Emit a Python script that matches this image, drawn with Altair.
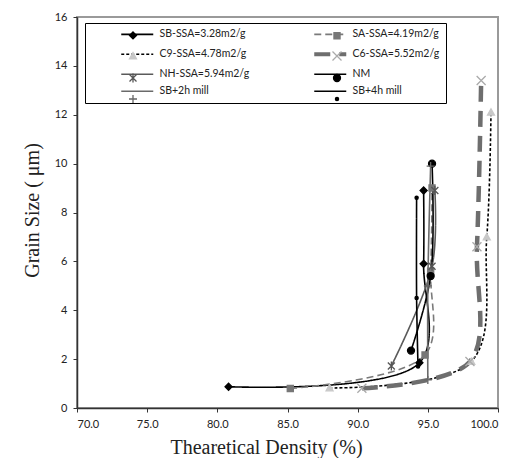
import altair as alt
import pandas as pd

series = ["SB-SSA=3.28m2/g", "SA-SSA=4.19m2/g", "C9-SSA=4.78m2/g", "C6-SSA=5.52m2/g",
          "NH-SSA=5.94m2/g", "NM", "SB+2h mill", "SB+4h mill"]

sb_x = [80.8, 94.4, 94.7, 94.7]
sb_y = [0.87, 1.85, 5.9, 8.9]
sa_x = [85.2, 94.8, 95.2, 95.3]
sa_y = [0.80, 2.17, 5.6, 9.0]
c9_x = [88.0, 98.1, 99.2, 99.5]
c9_y = [0.82, 1.9, 7.0, 12.1]
c6_x = [90.3, 98.0, 98.5, 98.8]
c6_y = [0.81, 1.9, 6.6, 13.4]
nh_x = [92.4, 95.3, 95.5]
nh_y = [1.72, 5.8, 8.9]
nm_x = [93.8, 95.2, 95.3]
nm_y = [2.35, 5.4, 10.0]
sb2_x = [95.0, 95.0, 95.2]
sb2_y = [1.15, 5.0, 9.9]
sb4_x = [94.3, 94.2, 94.2]
sb4_y = [1.7, 4.5, 8.6]

x_ticks = [70, 75, 80, 85, 90, 95, 100]
y_ticks = [0, 2, 4, 6, 8, 10, 12, 14, 16]

ZW = "\u200b"
markers = [s + ZW for s in series]

xs = [sb_x, sa_x, c9_x, c6_x, nh_x, nm_x, sb2_x, sb4_x]
ys = [sb_y, sa_y, c9_y, c6_y, nh_y, nm_y, sb2_y, sb4_y]
rows = []
for name, mname, xv, yv in zip(series, markers, xs, ys):
    for i, (a, b) in enumerate(zip(xv, yv)):
        rows.append({"series": name, "marker": mname, "density": a, "grain": b, "order": i})
df = pd.DataFrame(rows)

line_colors = ["#000000", "#7a7a7a", "#000000", "#6e6e6e", "#5a5a5a", "#000000", "#6a6a6a", "#000000"]
line_dash = [[1, 0], [7, 4], [3, 2], [16, 9], [1, 0], [1, 0], [1, 0], [1, 0]]
thick_series = "C6-SSA=5.52m2/g"

# marker glyphs in the unit box (symbol size 100 -> 10 px box)
marker_shapes = [
    "M0,-0.7L0.7,0L0,0.7L-0.7,0Z",
    "M-0.61,-0.61L0.61,-0.61L0.61,0.61L-0.61,0.61Z",
    "M0,-0.7L0.7,0.58L-0.7,0.58Z",
    "M-0.9,-0.9L0.9,0.9M-0.9,0.9L0.9,-0.9",
    "M-0.7,-0.7L0.7,0.7M-0.7,0.7L0.7,-0.7M0,-0.9L0,0.9",
    "M-0.7,0A0.7,0.7,0,1,0,0.7,0A0.7,0.7,0,1,0,-0.7,0Z",
    "M-0.8,0L0.8,0M0,-0.8L0,0.8",
    "M-0.32,0A0.32,0.32,0,1,0,0.32,0A0.32,0.32,0,1,0,-0.32,0Z",
]
marker_fills = ["#000000", "#777777", "#c8c8c8", "#aaaaaa", "#555555", "#000000", "#666666", "#000000"]
marker_strokes = ["#000000", "#777777", "#c8c8c8", "#aaaaaa", "#555555", "#000000", "#666666", "#000000"]

line_legend = alt.Legend(
    orient="none", legendX=8, legendY=6, columns=2, direction="horizontal", title=None,
    strokeColor="black", fillColor="white", zindex=1, padding=6,
    symbolType="stroke", symbolSize=1024, symbolOffset=41,
    symbolStrokeWidth=alt.ExprRef(expr=f"datum.value == '{thick_series}' ? 4 : 1.6"),
    labelFont="Lato", labelFontSize=10.5, labelColor="#222", labelOffset=17, labelLimit=300,
    rowPadding=6, columnPadding=34,
)
marker_legend = alt.Legend(
    orient="none", legendX=8, legendY=6, columns=2, direction="horizontal", title=None,
    zindex=2, padding=6, symbolSize=100, symbolOffset=36, symbolStrokeWidth=1.3,
    labelFont="Lato", labelFontSize=10.5, labelOffset=0,
    rowPadding=6, columnPadding=155,
    labelExpr="' '",
)

xenc = alt.X("density:Q", scale=alt.Scale(domain=[70, 100], nice=False),
             axis=alt.Axis(values=x_ticks, format=".1f", title="Thearetical Density (%)",
                           titleX=189, titlePadding=8))
yenc = alt.Y("grain:Q", scale=alt.Scale(domain=[0, 16], nice=False),
             axis=alt.Axis(values=y_ticks, title="Grain Size ( μm)", titleY=193, titlePadding=12))

lines = alt.Chart(df).mark_line(interpolate="catmull-rom").encode(
    x=xenc, y=yenc,
    color=alt.Color("series:N", scale=alt.Scale(domain=series, range=line_colors),
                    sort=series, legend=line_legend),
    strokeDash=alt.StrokeDash("series:N", scale=alt.Scale(domain=series, range=line_dash),
                              sort=series, legend=line_legend),
    strokeWidth=alt.condition(alt.datum.series == thick_series, alt.value(4.5), alt.value(1.6)),
    order="order:Q",
)

points = alt.Chart(df).mark_point(filled=True, opacity=1, size=100, strokeWidth=1.3).encode(
    x="density:Q", y="grain:Q",
    shape=alt.Shape("marker:N", scale=alt.Scale(domain=markers, range=marker_shapes),
                    sort=markers, legend=marker_legend),
    fill=alt.Fill("marker:N", scale=alt.Scale(domain=markers, range=marker_fills),
                  sort=markers, legend=marker_legend),
    stroke=alt.Stroke("marker:N", scale=alt.Scale(domain=markers, range=marker_strokes),
                      sort=markers, legend=marker_legend),
)

chart = alt.layer(lines, points).properties(
    width=421, height=391,
    autosize=alt.AutoSizeParams(type="none"),
    padding={"left": 69, "top": 9, "right": 5, "bottom": 50},
).configure_view(
    stroke="#9a9a9a", strokeWidth=2
).configure_axis(
    grid=False, domainColor="#333333", domainWidth=1.5, tickColor="#333333", tickSize=4,
    labelFont="Lato", labelFontSize=11, labelColor="#222222", labelPadding=6,
    titleFont="Liberation Serif, Times New Roman, serif", titleFontSize=20,
    titleFontWeight="normal", titleColor="#222222",
)

chart.save("out.html", embed_options={"renderer": "svg", "actions": False})
